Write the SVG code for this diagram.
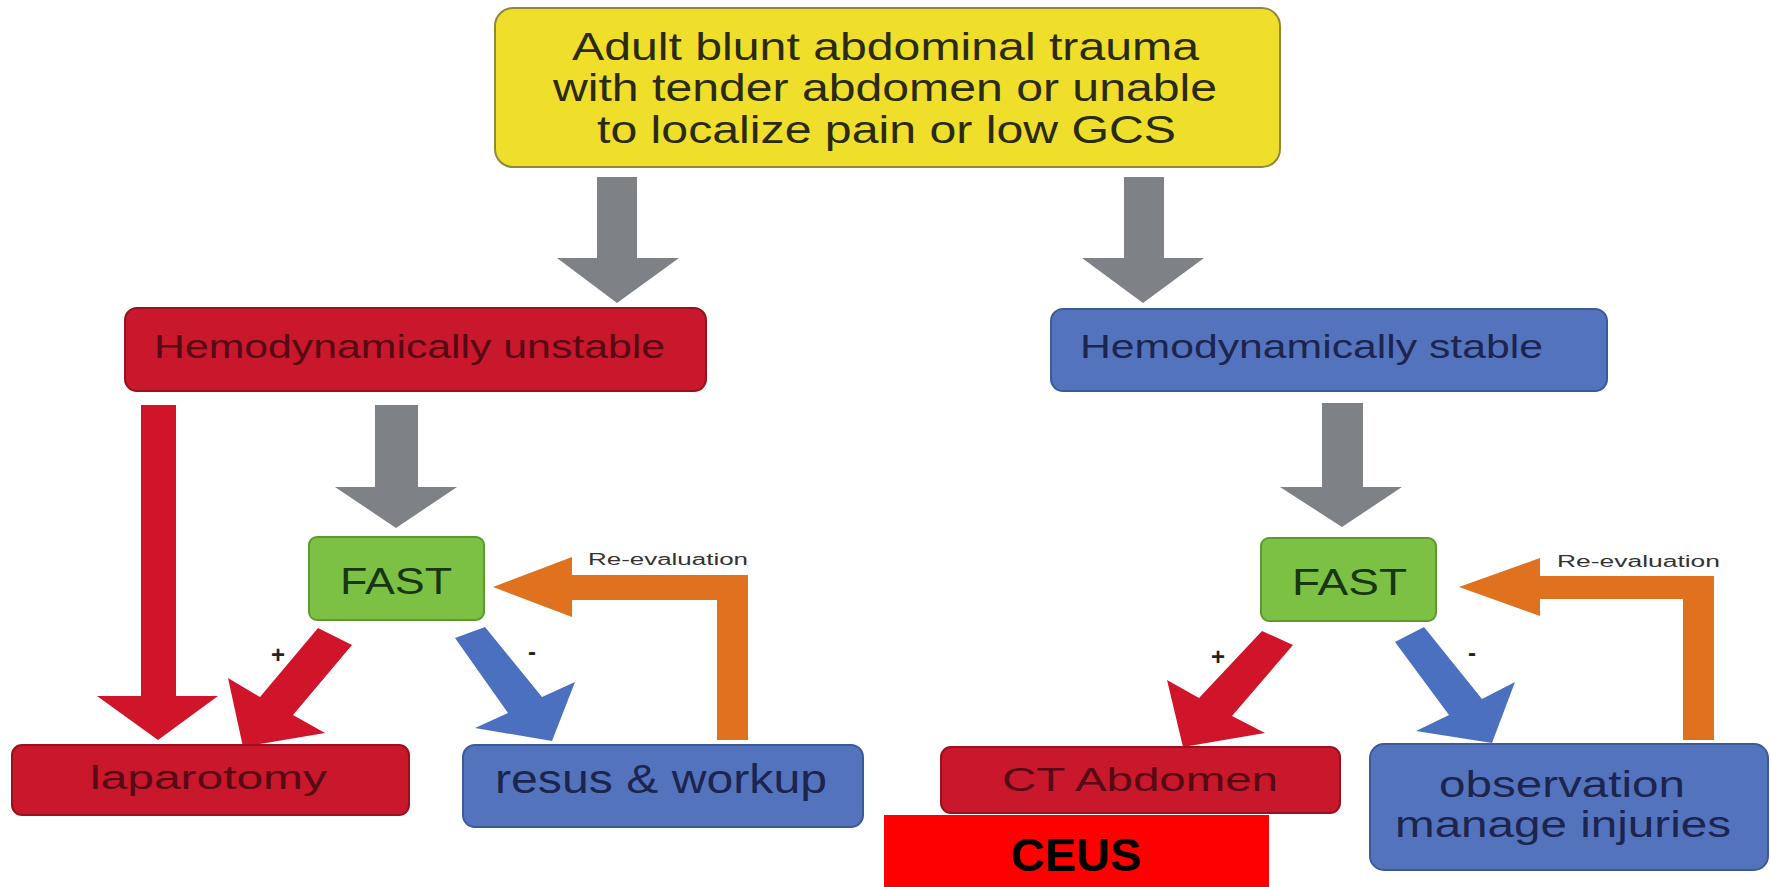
<svg xmlns="http://www.w3.org/2000/svg" width="1771" height="887" viewBox="0 0 1771 887">
<style>
  .t { font-family: "Liberation Sans", Arial, sans-serif; }
  .yel { fill: #efdf2a; stroke: #8e8a3c; stroke-width: 2; }
  .red { fill: #c9172b; stroke: #99101e; stroke-width: 2; }
  .blu { fill: #5374bd; stroke: #3d5a98; stroke-width: 2; }
  .grn { fill: #7cc143; stroke: #5c9a30; stroke-width: 2; }
  .ty { fill: #2b2a12; font-size: 38px; }
  .tr { fill: #560a14; font-size: 34px; }
  .tb { fill: #1c2450; font-size: 34px; }
  .tg { fill: #173612; font-size: 36px; }
  .tl { fill: #333333; font-size: 16px; }
  .ts { fill: #222222; font-size: 24px; font-weight: bold; }
  .gray { fill: #7e8185; }
  .ar-red { fill: #d0152b; }
  .ar-blu { fill: #4a70bf; }
  .ar-org { fill: #e0711f; }
</style>
<rect width="1771" height="887" fill="#ffffff"/>

<g id="connectors">
  <polygon class="gray" points="597,177 637,177 637,258 679,258 617,303 557,258 597,258"/>
  <polygon class="gray" points="1124,177 1164,177 1164,258 1204,258 1143,303 1082,258 1124,258"/>
  <polygon class="gray" points="375,405 418,405 418,487 457,487 396,528 335,487 375,487"/>
  <polygon class="gray" points="1322,403 1363,403 1363,487 1402,487 1342,527 1280,487 1322,487"/>
  <polygon class="ar-red" points="141,405 176,405 176,696 218,696 158,740 97,696 141,696"/>
  <polygon class="ar-red" points="318,628 352,645 293,715 325,733 243,747 228,678 260,697"/>
  <polygon class="ar-red" points="1262,631 1293,645 1232,716 1265,733 1183,747 1167,680 1199,698"/>
  <polygon class="ar-blu" points="455,638 485,627 542,697 575,682 552,741 475,728 508,713"/>
  <polygon class="ar-blu" points="1395,642 1424,627 1482,699 1515,682 1492,743 1416,731 1449,715"/>
  <polygon class="ar-org" points="748,740 717,740 717,600 572,600 572,617 493,587 572,557 572,575 748,575"/>
  <polygon class="ar-org" points="1714,740 1683,740 1683,599 1540,599 1540,616 1459,587 1540,558 1540,576 1714,576"/>
  <text class="t tl" x="588" y="565" textLength="160" lengthAdjust="spacingAndGlyphs">Re-evaluation</text>
  <text class="t tl" x="1557" y="567" textLength="163" lengthAdjust="spacingAndGlyphs">Re-evaluation</text>
  <text class="t ts" x="278" y="663" text-anchor="middle">+</text>
  <text class="t ts" x="532" y="660" text-anchor="middle">-</text>
  <text class="t ts" x="1218" y="665" text-anchor="middle">+</text>
  <text class="t ts" x="1472" y="661" text-anchor="middle">-</text>
</g>

<g id="node-trauma">
  <rect class="yel" x="495" y="8" width="785" height="159" rx="18"/>
  <text class="t ty" x="572" y="60" textLength="627" lengthAdjust="spacingAndGlyphs">Adult blunt abdominal trauma</text>
  <text class="t ty" x="553" y="101" textLength="664" lengthAdjust="spacingAndGlyphs">with tender abdomen or unable</text>
  <text class="t ty" x="597" y="143" textLength="579" lengthAdjust="spacingAndGlyphs">to localize pain or low GCS</text>
</g>

<g id="node-unstable">
  <rect class="red" x="125" y="308" width="581" height="83" rx="12"/>
  <text class="t tr" x="154" y="358" textLength="511" lengthAdjust="spacingAndGlyphs">Hemodynamically unstable</text>
</g>

<g id="node-stable">
  <rect class="blu" x="1051" y="309" width="556" height="82" rx="12"/>
  <text class="t tb" x="1080" y="358" textLength="463" lengthAdjust="spacingAndGlyphs">Hemodynamically stable</text>
</g>

<g id="node-fast-left">
  <rect class="grn" x="309" y="537" width="175" height="83" rx="8"/>
  <text class="t tg" x="340" y="594" textLength="112" lengthAdjust="spacingAndGlyphs">FAST</text>
</g>

<g id="node-fast-right">
  <rect class="grn" x="1261" y="538" width="175" height="83" rx="8"/>
  <text class="t tg" x="1292" y="595" textLength="115" lengthAdjust="spacingAndGlyphs">FAST</text>
</g>

<g id="node-laparotomy">
  <rect class="red" x="12" y="745" width="397" height="70" rx="10"/>
  <text class="t tr" x="90" y="789" textLength="237" lengthAdjust="spacingAndGlyphs">laparotomy</text>
</g>

<g id="node-resus">
  <rect class="blu" x="463" y="745" width="400" height="82" rx="12"/>
  <text class="t tb" x="495" y="793" textLength="332" lengthAdjust="spacingAndGlyphs" style="font-size:40px">resus &amp; workup</text>
</g>

<g id="node-ct">
  <rect class="red" x="941" y="747" width="399" height="66" rx="10"/>
  <text class="t tr" x="1002" y="791" textLength="276" lengthAdjust="spacingAndGlyphs">CT Abdomen</text>
</g>

<g id="node-observation">
  <rect class="blu" x="1370" y="744" width="398" height="126" rx="14"/>
  <text class="t tb" x="1439" y="797" textLength="246" lengthAdjust="spacingAndGlyphs" style="font-size:37px">observation</text>
  <text class="t tb" x="1395" y="837" textLength="336" lengthAdjust="spacingAndGlyphs" style="font-size:37px">manage injuries</text>
</g>

<g id="node-ceus">
  <rect x="884" y="815" width="385" height="72" fill="#ff0000"/>
  <text class="t" x="1076" y="871" text-anchor="middle" font-size="47" font-weight="bold" fill="#000000">CEUS</text>
</g>
</svg>
